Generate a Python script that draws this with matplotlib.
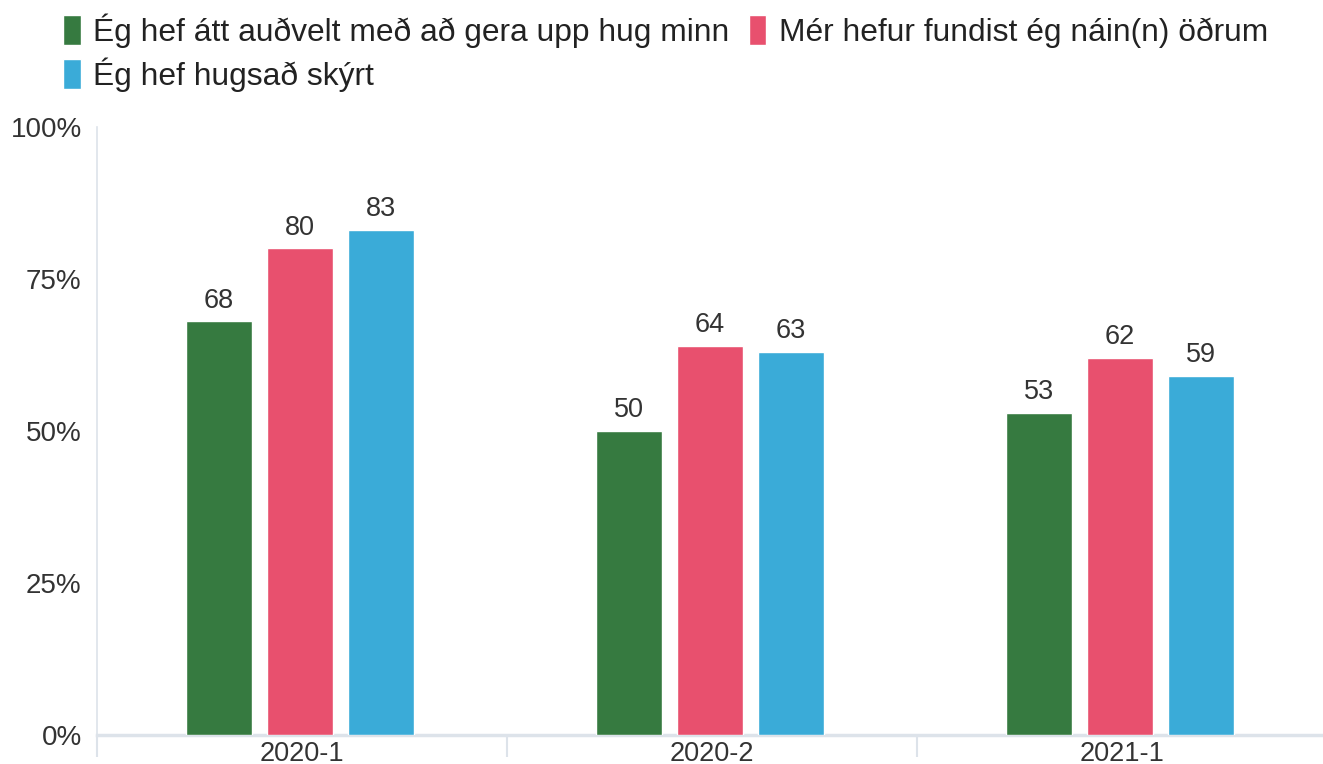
import numpy as np
import matplotlib.pyplot as plt

# gögn
categories = ['2020-1', '2020-2', '2021-1']
series_names = ['Ég hef átt auðvelt með að gera upp hug minn',
                'Mér hefur fundist ég náin(n) öðrum',
                'Ég hef hugsað skýrt']
easy = [68, 50, 53]
close = [80, 64, 62]
clear = [83, 63, 59]
colors = ['#367a40', '#e8506e', '#3aabd8']

plt.rcParams['font.family'] = ['Liberation Sans', 'DejaVu Sans']

fig = plt.figure(figsize=(13.23, 7.64), dpi=100)
ax = fig.add_axes([0.0733, 0.038, 0.9297, 0.796])

x = np.arange(len(categories))
w = 0.16
step = 0.198
bars = []
for i, (vals, c) in enumerate(zip([easy, close, clear], colors)):
    b = ax.bar(x + (i - 1) * step - 0.005, vals, w, color=c, edgecolor='white', linewidth=1.0,
               label=series_names[i], zorder=3)
    bars.append(b)
    for xx, yy in zip(x + (i - 1) * step - 0.005, vals):
        ax.text(xx, yy + 1.3, str(yy), ha='center', va='bottom', fontsize=19.5, color='#333333')

ax.set_xlim(-0.5, len(categories) - 0.5)
ax.set_ylim(0, 100)
ax.set_yticks([0, 25, 50, 75, 100])
ax.set_yticklabels(['0%', '25%', '50%', '75%', '100%'])
ax.set_xticks(x)
ax.set_xticklabels(categories)
ax.set_xticks(np.arange(-0.5, len(categories)), minor=True)
ax.tick_params(axis='y', length=0, pad=11, labelsize=20, labelcolor='#333333')
ax.tick_params(axis='x', which='major', length=0, pad=4, labelsize=19.5, labelcolor='#333333')
ax.tick_params(axis='x', which='minor', length=16, width=1.5, color='#dde3ea')

for s in ['top', 'right']:
    ax.spines[s].set_visible(False)
ax.spines['left'].set_color('#dde3ea')
ax.spines['left'].set_linewidth(1.2)
ax.spines['bottom'].set_color('#dde3ea')
ax.spines['bottom'].set_linewidth(2.5)

handles = [bars[0], bars[2], bars[1]]
labels = [series_names[0], series_names[2], series_names[1]]
leg = fig.legend(handles, labels, ncol=2, loc='upper left', bbox_to_anchor=(0.026, 1.02),
                 frameon=False, fontsize=22.9, handlelength=0.55, handleheight=1.1,
                 handletextpad=0.4, columnspacing=0.6, labelspacing=0.3)
for t in leg.get_texts():
    t.set_color('#222222')

fig.savefig('out.png', dpi=100)
